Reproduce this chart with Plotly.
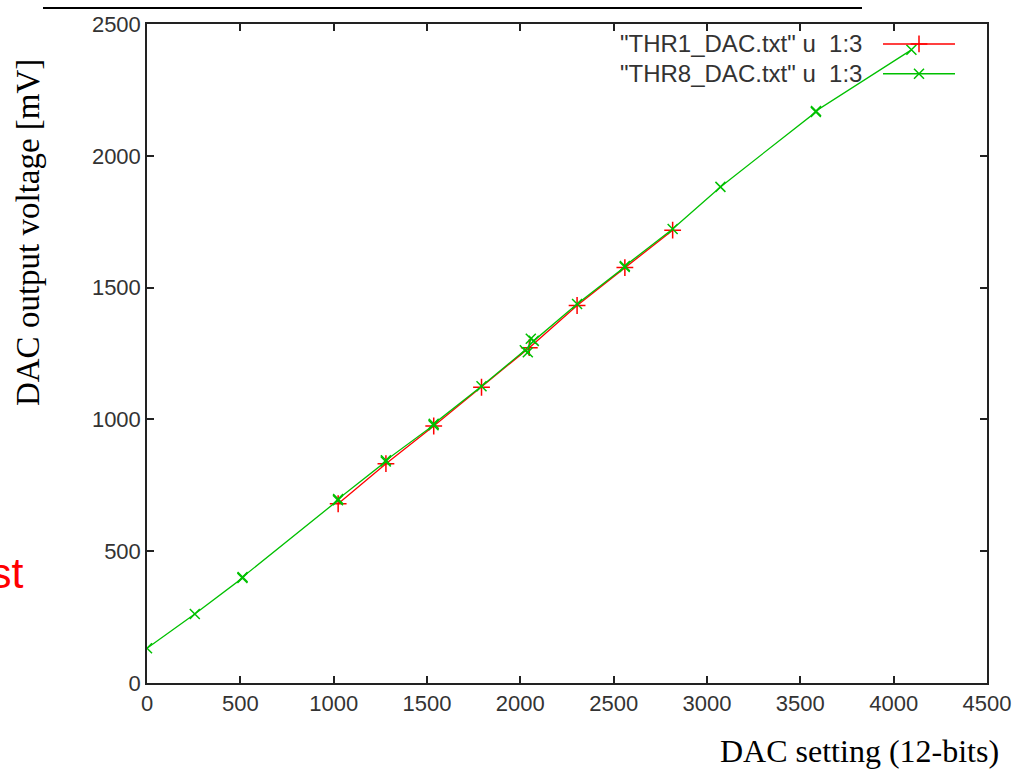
import plotly.graph_objects as go

# ---- data ----
thr1_x = [1024, 1280, 1536, 1792, 2048, 2304, 2560, 2816]
thr1_y = [680, 832, 975, 1122, 1272, 1432, 1576, 1718]

thr8_x = [0, 256, 511, 512, 1023, 1024, 1279, 1280, 1535, 1536, 1792,
          2024, 2040, 2056, 2072, 2304, 2559, 2560, 2816, 3072, 3583, 3584, 4095]
thr8_y = [132, 262, 398, 402, 693, 698, 840, 845, 978, 983, 1126,
          1262, 1255, 1306, 1298, 1438, 1578, 1582, 1722, 1882, 2166, 2170, 2402]

x_ticks = [0, 500, 1000, 1500, 2000, 2500, 3000, 3500, 4000, 4500]
y_ticks = [0, 500, 1000, 1500, 2000, 2500]

labels = ['"THR1_DAC.txt" u  1:3', '"THR8_DAC.txt" u  1:3']

RED = "#ff0000"
GREEN = "#00c000"
W, H = 1029, 771
L, R, T, B = 147, 42, 21, 88
pw, ph = W - L - R, H - T - B


def px(xp):
    return (xp - L) / pw


def py(yp):
    return 1 - (yp - T) / ph


fig = go.Figure()

fig.add_trace(go.Scatter(
    x=thr1_x, y=thr1_y, mode="lines+markers",
    line=dict(color=RED, width=1.3),
    marker=dict(symbol="cross-thin", size=12, line=dict(color=RED, width=1.5)),
    showlegend=False))
fig.add_trace(go.Scatter(
    x=thr8_x, y=thr8_y, mode="lines+markers",
    line=dict(color=GREEN, width=1.3),
    marker=dict(symbol="x-thin", size=10, line=dict(color=GREEN, width=1.5)),
    showlegend=False))

# legend keys drawn on an overlay axis spanning the plot area (0..1)
key_rows = [(py(41), RED, "cross-thin", 12), (py(71), GREEN, "x-thin", 10)]
for (yy, col, sym, sz), lab in zip(key_rows, labels):
    fig.add_trace(go.Scatter(x=[px(883), px(955)], y=[yy, yy], mode="lines",
                             line=dict(color=col, width=1.5), xaxis="x2", yaxis="y2",
                             showlegend=False, hoverinfo="skip"))
    fig.add_trace(go.Scatter(x=[px(919)], y=[yy], mode="markers",
                             marker=dict(symbol=sym, size=sz, line=dict(color=col, width=1.5)),
                             xaxis="x2", yaxis="y2", showlegend=False, hoverinfo="skip"))
    fig.add_annotation(x=px(864), y=yy, xref="paper", yref="paper", text=lab,
                       showarrow=False, xanchor="right", yanchor="middle",
                       font=dict(family="Liberation Sans", size=24, color="#333333"))

axis_common = dict(showgrid=False, zeroline=False, showline=True, linecolor="#222222",
                   linewidth=1.5, mirror="ticks", ticks="inside", ticklen=7,
                   tickcolor="#222222", tickwidth=1.5,
                   tickfont=dict(family="Liberation Sans", size=22, color="#333333"))

fig.update_layout(
    width=W, height=H,
    margin=dict(l=L, r=R, t=T, b=B, pad=0),
    paper_bgcolor="white", plot_bgcolor="white",
    xaxis=dict(range=[0, 4500], tickvals=x_ticks, **axis_common),
    yaxis=dict(range=[0, 2500], tickvals=y_ticks, **axis_common),
    xaxis2=dict(range=[0, 1], overlaying="x", visible=False, fixedrange=True),
    yaxis2=dict(range=[0, 1], overlaying="y", visible=False, fixedrange=True),
)

# axis titles
fig.add_annotation(x=px(28), y=py(231), xref="paper", yref="paper",
                   text="DAC output voltage [mV]", textangle=-90, showarrow=False,
                   xanchor="center", yanchor="middle",
                   font=dict(family="Liberation Serif", size=33, color="black"))
fig.add_annotation(x=px(1001), y=py(751), xref="paper", yref="paper",
                   text="DAC setting (12-bits)", showarrow=False,
                   xanchor="right", yanchor="middle",
                   font=dict(family="Liberation Serif", size=32, color="black"))
# cut-off red text at left edge
fig.add_annotation(x=px(26), y=py(573), xref="paper", yref="paper",
                   text="st", showarrow=False, xanchor="right", yanchor="middle",
                   font=dict(family="Liberation Sans", size=43, color=RED))

# top black rule
fig.add_shape(type="line", xref="paper", yref="paper",
              x0=px(43), x1=px(862), y0=py(5), y1=py(5),
              line=dict(color="black", width=2))

fig.write_html("out.html", config={"displayModeBar": False},
               post_script="document.body.style.margin='0';")
